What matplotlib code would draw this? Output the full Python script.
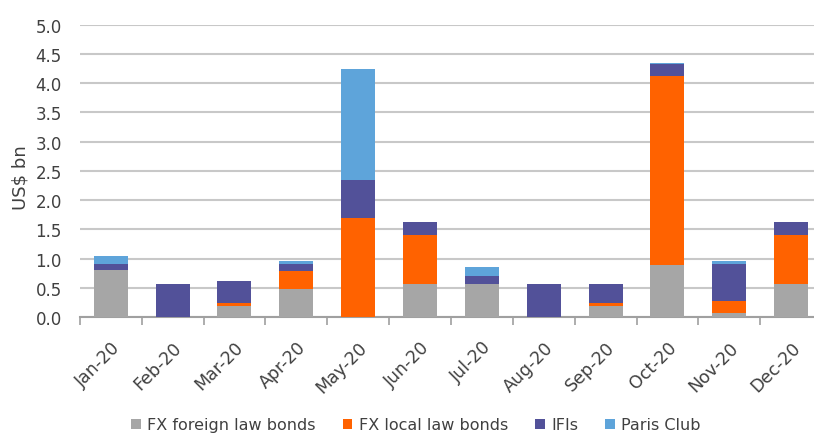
import numpy as np
import matplotlib.pyplot as plt
from matplotlib.transforms import ScaledTranslation

months = ["Jan-20", "Feb-20", "Mar-20", "Apr-20", "May-20", "Jun-20",
          "Jul-20", "Aug-20", "Sep-20", "Oct-20", "Nov-20", "Dec-20"]
fx_foreign = [0.80, 0.00, 0.19, 0.48, 0.00, 0.57, 0.57, 0.00, 0.19, 0.89, 0.06, 0.57]
fx_local = [0.00, 0.00, 0.05, 0.30, 1.69, 0.83, 0.00, 0.00, 0.05, 3.23, 0.21, 0.83]
ifis = [0.11, 0.57, 0.37, 0.13, 0.65, 0.22, 0.13, 0.57, 0.33, 0.20, 0.64, 0.22]
paris_club = [0.14, 0.00, 0.00, 0.05, 1.90, 0.00, 0.16, 0.00, 0.00, 0.02, 0.04, 0.00]

series = [
    ("FX foreign law bonds", fx_foreign, "#A6A6A6"),
    ("FX local law bonds", fx_local, "#FF6200"),
    ("IFIs", ifis, "#525199"),
    ("Paris Club", paris_club, "#5EA4DA"),
]
text_col = "#404040"

fig = plt.figure(figsize=(8.14, 4.35), dpi=100)
ax = fig.add_axes([0.098, 0.269, 0.912, 0.672])

x = np.arange(len(months))
bottom = np.zeros(len(months))
for label, vals, color in series:
    ax.bar(x, vals, 0.55, bottom=bottom, color=color, label=label, zorder=3)
    bottom += np.array(vals)

ax.set_ylim(0, 5.0)
ax.set_xlim(-0.5, len(months) - 0.5)
yt = np.arange(0, 5.01, 0.5)
ax.set_yticks(yt)
ax.set_yticklabels([f"{v:.1f}" for v in yt], fontsize=12, color=text_col)
ax.yaxis.grid(True, color="#C8C8C8", linewidth=1.5, zorder=0)
ax.tick_params(axis="y", length=0, pad=13)

ax.set_xticks(x)
ax.set_xticklabels(months, rotation=45, ha="right", va="top", rotation_mode="anchor",
                   fontsize=12.5, color=text_col)
# nudge rotated month labels a little to the left, as in the original
shift = ScaledTranslation(-7 / 100, 0, fig.dpi_scale_trans)
for lab in ax.get_xticklabels():
    lab.set_transform(lab.get_transform() + shift)
ax.set_xticks(np.arange(-0.5, len(months), 1), minor=True)
ax.tick_params(axis="x", which="major", length=0, pad=15)
ax.tick_params(axis="x", which="minor", length=6, color="#A0A0A0", width=1.2)

for s in ["top", "right", "left"]:
    ax.spines[s].set_visible(False)
ax.spines["bottom"].set_color("#A0A0A0")
ax.spines["bottom"].set_linewidth(1.5)

fig.text(20 / 814, 1 - 178 / 435, "US$ bn", rotation=90, ha="center", va="center",
         fontsize=13, color=text_col)

fig.legend(loc="center", bbox_to_anchor=(416 / 814, 1 - 426 / 435), ncol=4, frameon=False,
           fontsize=11.5, handlelength=0.6, handleheight=0.6, handletextpad=0.4,
           columnspacing=1.7, labelcolor=text_col, borderpad=0)

fig.savefig("out.png", dpi=100)
